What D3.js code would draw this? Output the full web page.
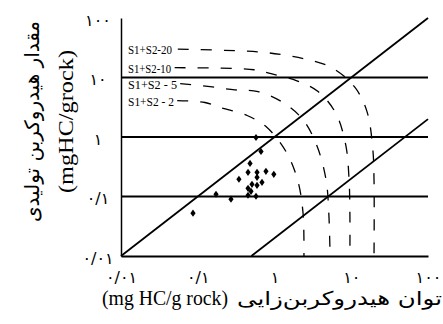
<!DOCTYPE html>
<html><head><meta charset="utf-8">
<script src="https://cdn.jsdelivr.net/npm/d3@7"></script>
<style>html,body{margin:0;padding:0;background:#fff;} svg{display:block}</style>
</head><body><svg id="c" width="443" height="324"></svg>
<script>
// ---- data ----
const tickValues = [0.01, 0.1, 1, 10, 100];
const tickLabels = ["۰/۰۱", "۰/۱", "۱", "۱۰", "۱۰۰"];
const gridLevels = [0.1, 1, 10];
const diagonalRatios = [1, 0.02];
const curveLabels = ["S1+S2-20", "S1+S2-10", "S1+S2 - 5", "S1+S2 - 2"];
const curve20 = [[0.055,30],[0.6,27],[1.3,24],[2.7,20],[5.6,14.6],[11,7],[16,2.7],[19,0.67],[19.8,0.19],[19.8,0.01]];
const curve10 = [[0.05,14.6],[0.54,13.5],[0.9,11.6],[1.96,8.8],[3.7,5.8],[6.3,2.5],[8.5,0.72],[9.35,0.2],[9.6,0.054],[9.6,0.01]];
const curve5  = [[0.059,7.9],[0.145,7.0],[0.305,6.2],[0.61,5.8],[1.25,3.9],[2.35,1.96],[3.6,0.69],[4.7,0.19],[5.1,0.052],[5.3,0.01]];
const curve2  = [[0.054,4.1],[0.124,3.8],[0.2,3.1],[0.44,2.3],[0.8,1.44],[1.41,0.57],[2.0,0.19],[2.35,0.054],[2.42,0.01]];
const sampleX = [0.574,0.667,0.480,0.452,0.592,0.592,0.774,0.98,0.344,0.687,0.592,0.509,0.452,0.494,0.452,0.574,0.173,0.271,0.0867];
const sampleY = [0.98,0.571,0.360,0.255,0.255,0.210,0.265,0.236,0.195,0.173,0.154,0.160,0.137,0.122,0.105,0.101,0.109,0.090,0.0525];
const xTitleLatin = "(mg HC/g rock)";
const xTitlePersian = "توان هیدروکربن‌زایی";
const yTitlePersian = "مقدار هیدروکربن تولیدی";
const yTitleLatin = "(mgHC/grock)";

// ---- drawing ----
const svg = d3.select("#c");
svg.append("rect").attr("width",443).attr("height",324).attr("fill","#fff");
const x = d3.scaleLog().domain([0.01,100]).range([121,428]);
const y = d3.scaleLog().domain([0.01,100]).range([256,18]);
const curves = [curve20, curve10, curve5, curve2];

// horizontal lines
svg.selectAll("line.h").data(gridLevels).enter().append("line")
  .attr("x1", x(0.01)).attr("x2", x(100))
  .attr("y1", d=>y(d)).attr("y2", d=>y(d))
  .attr("stroke","#000").attr("stroke-width",2);

// diagonal lines y = r*x
svg.selectAll("line.d").data(diagonalRatios).enter().append("line")
  .attr("x1", d=>x(0.01/d)).attr("y1", y(0.01))
  .attr("x2", x(100)).attr("y2", d=>y(100*d))
  .attr("stroke","#000").attr("stroke-width",1.8);

// dashed curves
const line = d3.line().x(d=>x(d[0])).y(d=>y(d[1])).curve(d3.curveCatmullRom.alpha(0.5));
svg.selectAll("path.c").data(curves).enter().append("path")
  .attr("d", line).attr("fill","none").attr("stroke","#000")
  .attr("stroke-width",1.3).attr("stroke-dasharray","11,12");

const labelLens = [44, 43, 49, 46];
svg.selectAll("text.cl").data(curveLabels).enter().append("text")
  .attr("x", x(0.01)+7).attr("y", (d,i)=>y(curves[i][0][1])+5)
  .attr("font-family","'Liberation Serif', serif").attr("font-size",13.5)
  .attr("textLength",(d,i)=>labelLens[i]).attr("lengthAdjust","spacingAndGlyphs")
  .attr("fill","#000").text(d=>d);

// samples
const samples = sampleX.map((v,i)=>[v, sampleY[i]]);
svg.selectAll("path.s").data(samples).enter().append("path")
  .attr("d","M0,-3.6L2.6,0L0,3.6L-2.6,0Z")
  .attr("transform", d=>`translate(${x(d[0])},${y(d[1])})`)
  .attr("fill","#000");

// axes
const fmt = (d)=>tickLabels[tickValues.indexOf(d)];
const gx = svg.append("g").attr("transform",`translate(0,${y(0.01)})`)
  .call(d3.axisBottom(x).tickValues(tickValues).tickFormat(fmt).tickSize(0).tickSizeOuter(0).tickPadding(0));
gx.select(".domain").attr("stroke","#000").attr("stroke-width",2);
gx.selectAll("text").attr("y",27).attr("dy",0)
  .attr("font-family","'DejaVu Sans', sans-serif").attr("font-size",16).attr("fill","#000");

const gy = svg.append("g").attr("transform",`translate(${x(0.01)},0)`)
  .call(d3.axisLeft(y).tickValues(tickValues).tickFormat(fmt).tickSize(0).tickSizeOuter(0));
gy.select(".domain").attr("stroke","#000").attr("stroke-width",1.5);
gy.selectAll("text").attr("x",-23).attr("dy",0).attr("y",7).attr("text-anchor","middle")
  .attr("font-family","'DejaVu Sans', sans-serif").attr("font-size",16).attr("fill","#000");

// titles
svg.append("text").attr("x",102).attr("y",305)
  .attr("font-family","'Liberation Serif', serif").attr("font-size",20)
  .attr("textLength",126).attr("lengthAdjust","spacingAndGlyphs").text(xTitleLatin);
svg.append("text").attr("x",237).attr("y",305)
  .attr("font-family","'DejaVu Sans', sans-serif").attr("font-size",19)
  .attr("textLength",205).attr("lengthAdjust","spacingAndGlyphs").text(xTitlePersian);

svg.append("text").attr("transform","translate(39,121.5) rotate(-90)").attr("text-anchor","middle")
  .attr("font-family","'DejaVu Sans', sans-serif").attr("font-size",20).text(yTitlePersian);
svg.append("text").attr("transform","translate(73,121.5) rotate(-90)").attr("text-anchor","middle")
  .attr("font-family","'Liberation Serif', serif").attr("font-size",21)
  .attr("textLength",143).attr("lengthAdjust","spacingAndGlyphs").text(yTitleLatin);
</script></body></html>
